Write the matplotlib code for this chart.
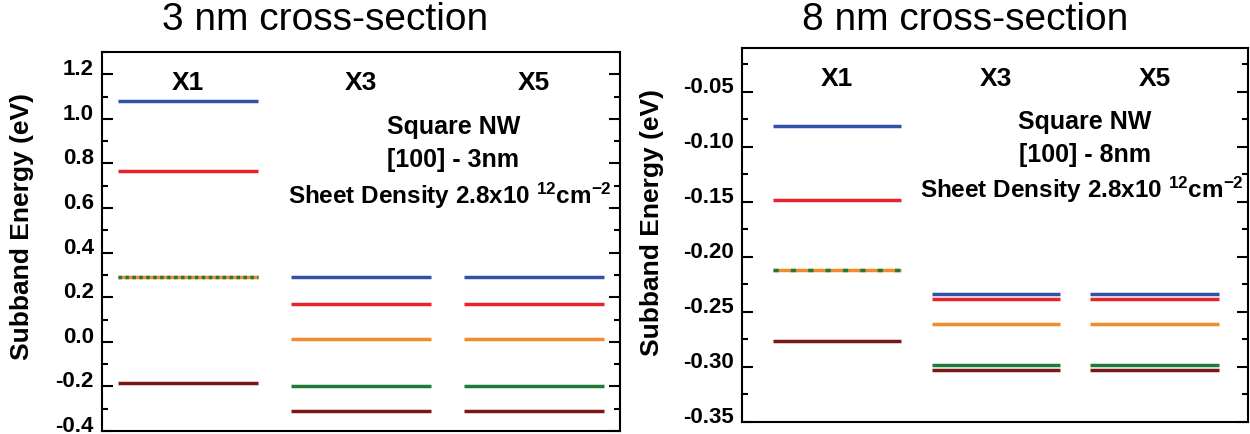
"""
Subband energies of square Si nanowires, 3 nm and 8 nm cross-section
"""

import matplotlib
matplotlib.use('Agg')
import matplotlib.pyplot as plt
import matplotlib.transforms as mtransforms
import numpy as np

# Set figure details
plt.rcParams['font.family'] = ['Liberation Sans', 'DejaVu Sans']
plt.rcParams['axes.unicode_minus'] = False
plt.rcParams['mathtext.fontset'] = 'custom'
plt.rcParams['mathtext.rm'] = 'Liberation Sans:bold'
plt.rcParams['mathtext.it'] = 'Liberation Sans:bold'
plt.rcParams['mathtext.bf'] = 'Liberation Sans:bold'

# Valleys (columns) and subband colours, same order in every column
valleys = ['X1', 'X3', 'X5']
band_colors = ['#3152a8', '#e8232b', '#f08c2c', '#1f7b3b', '#7a1717']

# Subband energies (eV), 3 nm wire
e3_x1 = [1.081, 0.764, 0.290, 0.290, -0.186]
e3_x3 = [0.290, 0.171, 0.012, -0.197, -0.309]
e3_x5 = [0.290, 0.171, 0.012, -0.197, -0.309]

# Subband energies (eV), 8 nm wire
e8_x1 = [-0.081, -0.148, -0.212, -0.212, -0.276]
e8_x3 = [-0.234, -0.238, -0.261, -0.298, -0.303]
e8_x5 = [-0.234, -0.238, -0.261, -0.298, -0.303]

ticks_3nm = [-0.4, -0.2, 0.0, 0.2, 0.4, 0.6, 0.8, 1.0, 1.2]
ticks_8nm = [-0.35, -0.30, -0.25, -0.20, -0.15, -0.10, -0.05]


def plot_levels(ax, columns, ticks, fmt, minor_step, ylim, xlim, dashes,
                size_label, label_xy):
    """
    Draws the subband levels of each valley as short horizontal bars.
    """
    halfw = 0.405
    for i, levels in enumerate(columns):
        xc = i + 1
        for j, e in enumerate(levels):
            if j > 0 and e == levels[j - 1]:
                # degenerate level: dashed on top of the previous one
                ax.hlines(e, xc - halfw, xc + halfw, color=band_colors[j],
                          linewidth=2.5, linestyle=(0, dashes), zorder=3)
            else:
                ax.hlines(e, xc - halfw, xc + halfw, color=band_colors[j],
                          linewidth=2.5, zorder=2)
        ax.text(xc, 0.921, valleys[i], transform=ax.get_xaxis_transform(),
                ha='center', va='center', fontsize=19, fontweight='bold')

    ax.set_xlim(xlim)
    ax.set_ylim(ylim)
    ax.set_xticks([])
    ax.set_yticks(ticks)
    ax.set_yticklabels([fmt % t for t in ticks], fontsize=16, fontweight='bold')
    ax.set_yticks(np.arange(ylim[0], ylim[1] + 1e-9, minor_step), minor=True)
    ax.tick_params(axis='y', which='both', direction='in', left=True,
                   right=True, width=1.5, pad=6)
    ax.tick_params(axis='y', which='major', length=8)
    ax.tick_params(axis='y', which='minor', length=4.5)
    for sp in ax.spines.values():
        sp.set_linewidth(1.5)

    # labels sit a little above their ticks in the original figure
    shift = mtransforms.ScaledTranslation(0, 0.08, ax.figure.dpi_scale_trans)
    for lab in ax.get_yticklabels():
        lab.set_transform(lab.get_transform() + shift)

    ax.text(0.678, 0.805, 'Square NW', transform=ax.transAxes, ha='center',
            va='center', fontsize=18, fontweight='bold')
    ax.text(0.678, 0.717, '[100] - %s' % size_label, transform=ax.transAxes,
            ha='center', va='center', fontsize=18, fontweight='bold')
    ax.text(0.672, 0.622, r'Sheet Density 2.8x10 $^{12}$cm$^{-2}$',
            transform=ax.transAxes, ha='center', va='center', fontsize=17.5,
            fontweight='bold')

    ax.set_ylabel('Subband Energy (eV)', fontsize=19, fontweight='bold')
    ax.yaxis.set_label_coords(*label_xy)


fig = plt.figure(figsize=(12.5, 4.35), dpi=100)
ax1 = fig.add_axes([0.0816, 0.0069, 0.4144, 0.8713])
ax2 = fig.add_axes([0.5936, 0.0276, 0.4048, 0.8598])

plot_levels(ax1, [e3_x1, e3_x3, e3_x5], ticks_3nm, '%.1f', 0.1, (-0.4, 1.3),
            (0.5, 3.5), (1, 1), '3nm', (-0.131, 0.542))
plot_levels(ax2, [e8_x1, e8_x3, e8_x5], ticks_8nm, '%.2f', 0.025, (-0.35, -0.01),
            (0.4, 3.59), (1.5, 3.5), '8nm', (-0.154, 0.535))

fig.text(325 / 1250, 1 - 20 / 435, '3 nm cross-section', ha='center',
         va='center', fontsize=28)
fig.text(965 / 1250, 1 - 20 / 435, '8 nm cross-section', ha='center',
         va='center', fontsize=28)

fig.savefig('out.png', dpi=100)
